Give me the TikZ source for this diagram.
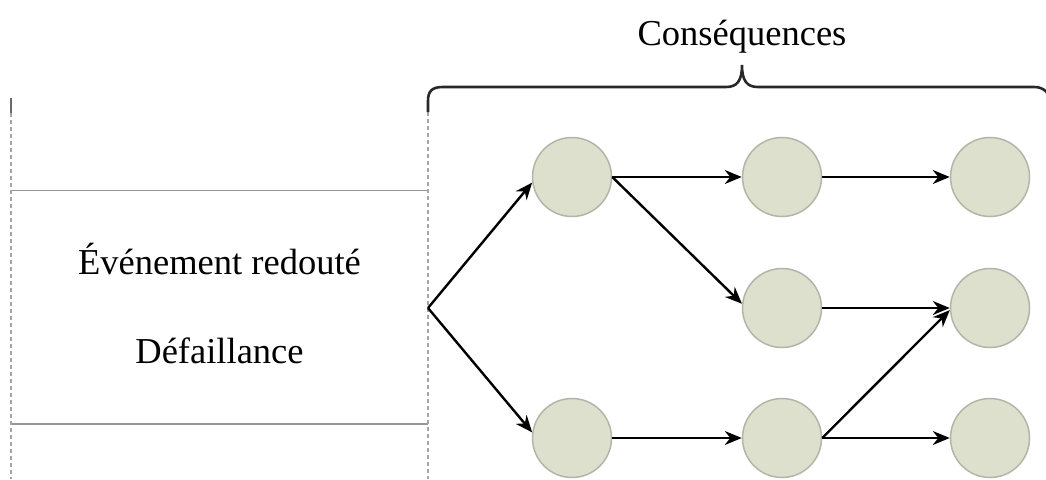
\documentclass[tikz,border=0pt]{standalone}
\usepackage{fontspec}
\setmainfont{Liberation Serif}
\usetikzlibrary{arrows.meta}
\definecolor{circfill}{RGB}{221,224,205}
\definecolor{circline}{RGB}{178,181,168}
\definecolor{boxline}{RGB}{150,150,150}
\definecolor{dashline}{RGB}{165,165,165}
\definecolor{bracecol}{RGB}{40,40,40}
\tikzset{
  conseq/.style={circle,draw=circline,fill=circfill,line width=1.5pt,minimum size=79pt,inner sep=0pt},
  flow/.style={line width=2.4pt,-{Stealth[length=17pt,width=14pt]}},
  lbl/.style={font=\fontsize{36.5}{40}\selectfont,anchor=base,inner sep=0pt},
  boxedge/.style={draw=boxline,line width=1.6pt},
  guide/.style={draw=dashline,line width=1.3pt,dash pattern=on 4pt off 3pt},
  bracestyle/.style={draw=bracecol,line width=2.6pt}
}
\begin{document}
\begin{tikzpicture}[x=1pt,y=-1pt]
\useasboundingbox (0,0) rectangle (1046,479);
% frame of the left area
\draw[boxedge] (11,190.5) -- (428,190.5);
\draw[boxedge] (11,424) -- (428,424);
\draw[draw=boxline!70!black,line width=1.3pt] (11,98) -- (11,113);
\draw[guide] (11,113) -- (11,479);
\draw[guide] (428,112) -- (428,479);
% brace
\draw[bracestyle] (428,112) -- (428,101) .. controls (428,91) and (432,87) .. (443,87)
  -- (726,87) .. controls (737,87) and (742,81) .. (742,65)
  .. controls (742,81) and (747,87) .. (758,87)
  -- (1034,87) .. controls (1044,87) and (1050,93) .. (1050,103) -- (1050,112);
% texts
\node[lbl] (title) at (742,45) {Conséquences};
\node[lbl] (evt) at (219.5,274) {Événement redouté};
\node[lbl] (def) at (219.5,363) {Défaillance};
% circles
\node[conseq] (c11) at (572,177) {};
\node[conseq] (c12) at (782,177) {};
\node[conseq] (c13) at (990,177) {};
\node[conseq] (c22) at (782,308) {};
\node[conseq] (c23) at (990,308) {};
\node[conseq] (c31) at (572,438) {};
\node[conseq] (c32) at (782,438) {};
\node[conseq] (c33) at (990,438) {};
\coordinate (split) at (428,308);
% connectors
\draw[flow] (split) -- (c11.188);
\draw[flow] (split) -- (c31.172);
\draw[flow] (c11.east) -- (c12.west);
\draw[flow] (c12.east) -- (c13.west);
\draw[flow] (c11.east) -- (c22.174);
\draw[flow] (c22.east) -- (c23.west);
\draw[flow] (c31.east) -- (c32.west);
\draw[flow] (c32.east) -- (c33.west);
\draw[flow] (c32.east) -- (c23.183);
\end{tikzpicture}
\end{document}
